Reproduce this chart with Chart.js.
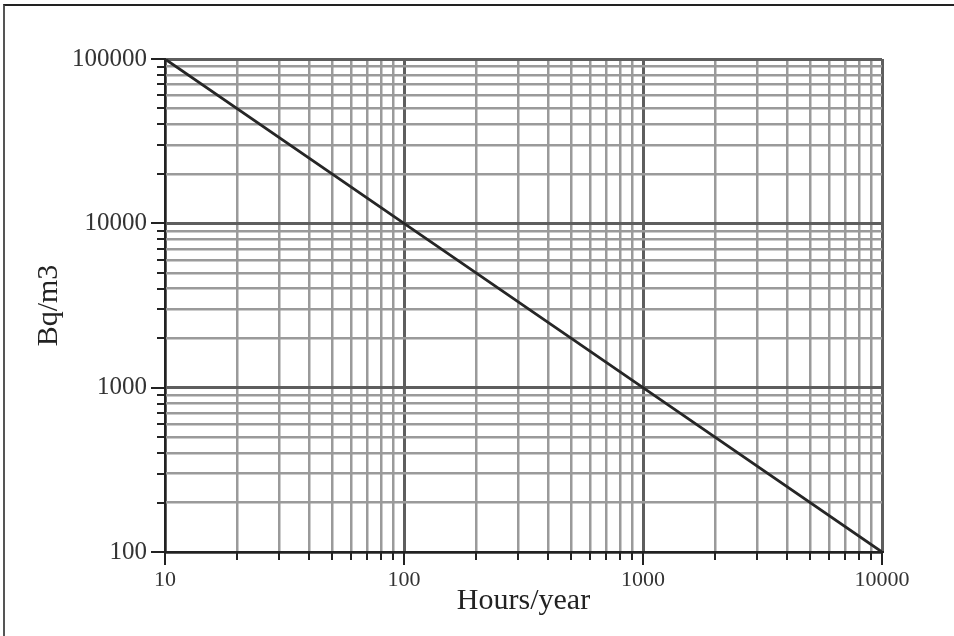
<!DOCTYPE html>
<html><head><meta charset="utf-8">
<script src="https://cdn.jsdelivr.net/npm/chart.js@4"></script>
<style>
html,body{margin:0;padding:0;background:#fff;}
#wrap{position:relative;width:954px;height:636px;overflow:hidden;background:#fff;}
#frame{position:absolute;left:3px;top:4px;width:980px;height:660px;border-left:2px solid #555;border-top:2px solid #222;pointer-events:none;}
canvas{position:absolute;left:0;top:0;}
</style></head><body>
<div id="wrap"><canvas id="c" width="954" height="636"></canvas><div id="frame"></div></div>
<script>
// ---- data ----
const hoursPerYear = [10, 100, 1000, 10000];
const bqPerM3 = [100000, 10000, 1000, 100];
const xMajorTicks = [10, 100, 1000, 10000];
const yMajorTicks = [100, 1000, 10000, 100000];
const xTickLabels = ['10', '100', '1000', '10000'];
const yTickLabels = ['100', '1000', '10000', '100000'];
const minorMultipliers = [2, 3, 4, 5, 6, 7, 8, 9];
const xTitle = 'Hours/year';
const yTitle = 'Bq/m3';

function buildTicks(majors) {
  const out = [];
  majors.forEach((m, i) => {
    out.push({ value: m });
    if (i < majors.length - 1) minorMultipliers.forEach(k => out.push({ value: m * k }));
  });
  return out;
}
const isMajorX = v => xMajorTicks.includes(v);
const isMajorY = v => yMajorTicks.includes(v);

const MAJOR_COLOR = '#5e5e5e', MINOR_COLOR = '#9a9a9a';
const serif = '"Liberation Serif", "DejaVu Serif", serif';

const tickMarks = {
  id: 'tickMarks',
  afterDraw(chart) {
    const { ctx, chartArea: a } = chart;
    const xs = chart.scales.x, ys = chart.scales.y;
    ctx.save();
    ctx.strokeStyle = '#222';
    ctx.lineWidth = 2;
    ys.ticks.forEach(t => {
      const py = Math.round(ys.getPixelForValue(t.value));
      const len = isMajorY(t.value) ? 14 : 8;
      ctx.beginPath(); ctx.moveTo(a.left, py); ctx.lineTo(a.left - len, py); ctx.stroke();
    });
    xs.ticks.forEach(t => {
      const px = Math.round(xs.getPixelForValue(t.value));
      const len = isMajorX(t.value) ? 13 : 8;
      ctx.beginPath(); ctx.moveTo(px, a.bottom); ctx.lineTo(px, a.bottom + len); ctx.stroke();
    });
    ctx.restore();
  }
};

new Chart(document.getElementById('c'), {
  type: 'line',
  data: {
    datasets: [{
      data: hoursPerYear.map((h, i) => ({ x: h, y: bqPerM3[i] })),
      borderColor: '#262626',
      borderWidth: 2.8,
      pointRadius: 0,
      tension: 0,
      fill: false
    }]
  },
  options: {
    responsive: false,
    animation: false,
    devicePixelRatio: 1,
    layout: { padding: { top: 59, right: 72, bottom: 0, left: 0 } },
    plugins: { legend: { display: false }, tooltip: { enabled: false } },
    scales: {
      x: {
        type: 'logarithmic',
        min: xMajorTicks[0],
        max: xMajorTicks[xMajorTicks.length - 1],
        afterBuildTicks: s => { s.ticks = buildTicks(xMajorTicks); },
        afterFit: s => { s.height = 84; },
        grid: {
          drawTicks: false,
          color: c => (c.tick && isMajorX(c.tick.value)) ? MAJOR_COLOR : MINOR_COLOR,
          lineWidth: c => (c.tick && isMajorX(c.tick.value)) ? 3 : 2.5
        },
        border: { display: true, color: '#222', width: 2 },
        ticks: {
          autoSkip: false, maxRotation: 0, padding: 15,
          color: '#333',
          font: { family: serif, size: 22 },
          callback: v => { const i = xMajorTicks.indexOf(v); return i >= 0 ? xTickLabels[i] : ''; }
        },
        title: { display: true, text: xTitle, color: '#222', font: { family: serif, size: 30 }, padding: { top: 0, bottom: 17 } }
      },
      y: {
        type: 'logarithmic',
        min: yMajorTicks[0],
        max: yMajorTicks[yMajorTicks.length - 1],
        afterBuildTicks: s => { s.ticks = buildTicks(yMajorTicks); },
        afterFit: s => { s.width = 165; },
        grid: {
          drawTicks: false,
          color: c => (c.tick && isMajorY(c.tick.value)) ? MAJOR_COLOR : MINOR_COLOR,
          lineWidth: c => (c.tick && isMajorY(c.tick.value)) ? 3 : 2.5
        },
        border: { display: true, color: '#222', width: 2 },
        ticks: {
          autoSkip: false, padding: 18,
          color: '#333',
          font: { family: serif, size: 25 },
          callback: v => { const i = yMajorTicks.indexOf(v); return i >= 0 ? yTickLabels[i] : ''; }
        },
        title: { display: true, text: yTitle, color: '#222', font: { family: serif, size: 30 }, padding: { top: 31, bottom: 0 } }
      }
    }
  },
  plugins: [tickMarks]
});
</script>
</body></html>
